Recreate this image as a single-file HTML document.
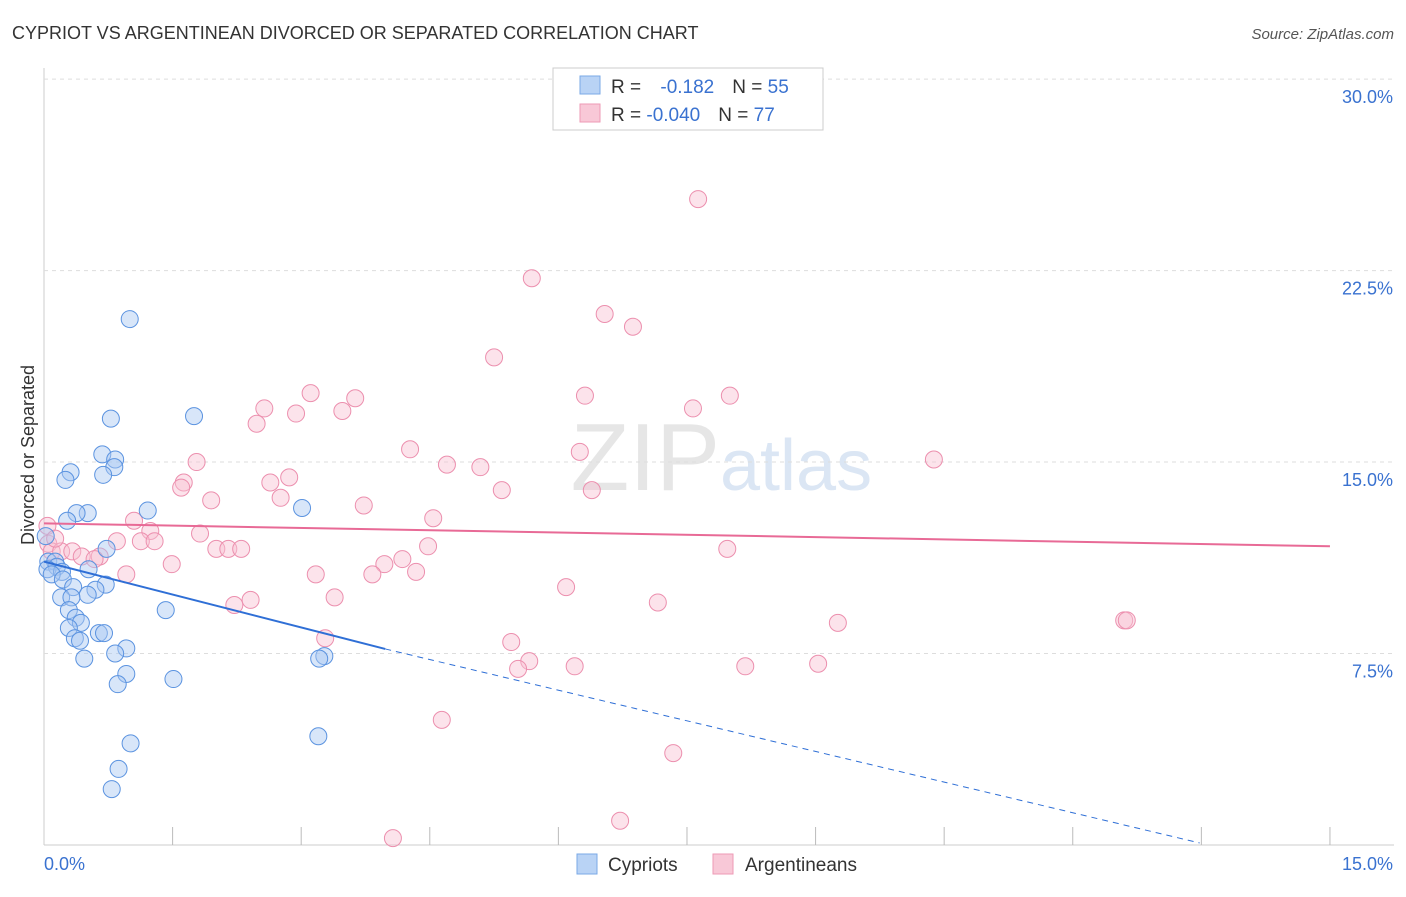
<!DOCTYPE html>
<html><head><meta charset="utf-8"><style>
body{margin:0;background:#fff;font-family:"Liberation Sans",sans-serif}
svg text{font-family:"Liberation Sans",sans-serif}
</style></head><body>
<svg id="c" width="1406" height="892">
<text x="12" y="39" font-size="18" fill="#333">CYPRIOT VS ARGENTINEAN DIVORCED OR SEPARATED CORRELATION CHART</text>
<text x="1394" y="39" font-size="15" fill="#555" font-style="italic" text-anchor="end">Source: ZipAtlas.com</text>
<text x="720" y="490" font-size="96" fill="#e6e6e6" text-anchor="end" font-family="Liberation Serif">ZIP</text>
<text x="720" y="490" font-size="72" fill="#dbe6f4">atlas</text>
<g id="grid"></g><g id="marks"></g>
<text transform="translate(34,455) rotate(-90)" font-size="18" fill="#333" text-anchor="middle">Divorced or Separated</text>
<g>
<rect x="553" y="68" width="270" height="62" fill="#fff" stroke="#ccc"/>
<rect x="580" y="76" width="20" height="18" fill="#b9d3f5" stroke="#7aa8e6"/>
<rect x="580" y="104" width="20" height="18" fill="#f8c8d7" stroke="#ee9ab5"/>
<text x="611" y="93" font-size="19" fill="#333">R = <tspan fill="#3a72d0" dx="14">-0.182</tspan><tspan dx="18" fill="#333">N = </tspan><tspan fill="#3a72d0">55</tspan></text>
<text x="611" y="121" font-size="19" fill="#333">R = <tspan fill="#3a72d0">-0.040</tspan><tspan dx="18" fill="#333">N = </tspan><tspan fill="#3a72d0">77</tspan></text>
</g>
<g>
<rect x="577" y="854" width="20" height="20" fill="#b9d3f5" stroke="#7aa8e6"/>
<text x="608" y="871" font-size="19" fill="#333">Cypriots</text>
<rect x="713" y="854" width="20" height="20" fill="#f8c8d7" stroke="#ee9ab5"/>
<text x="745" y="871" font-size="19" fill="#333">Argentineans</text>
</g>
</svg>
<script>
const yTicks=[7.5,15,22.5,30];
const xTickVals=[0,1.5,3,4.5,6,7.5,9,10.5,12,13.5,15];
const cypX=[1.0,0.78,1.75,0.68,0.83,0.82,0.31,0.69,0.25,0.51,0.38,1.21,3.01,0.27,0.02,0.73,0.05,0.13,0.15,0.04,0.21,0.09,0.52,0.22,0.72,0.34,0.6,0.2,0.51,0.32,1.42,0.29,0.37,0.43,0.29,0.64,0.7,0.36,0.42,0.96,0.83,0.47,3.27,3.21,0.96,1.51,0.86,1.01,3.2,0.87,0.79];
const cypY=[20.6,16.7,16.8,15.3,15.1,14.8,14.6,14.5,14.3,13.0,13.0,13.1,13.2,12.7,12.1,11.6,11.1,11.1,10.9,10.8,10.7,10.6,10.8,10.4,10.2,10.1,10.0,9.7,9.8,9.7,9.2,9.2,8.9,8.7,8.5,8.3,8.3,8.1,8.0,7.7,7.5,7.3,7.4,7.3,6.7,6.5,6.3,3.98,4.26,2.98,2.19];
const argX=[7.63,5.69,6.54,6.87,5.25,3.11,3.63,6.31,8.0,2.57,7.57,2.94,3.48,2.48,4.27,6.25,1.78,4.70,5.09,10.38,2.86,1.63,1.60,2.64,5.34,6.39,1.95,2.76,3.73,4.54,1.05,1.24,1.82,0.85,1.13,1.29,0.05,0.09,0.20,0.33,0.44,4.48,2.01,2.15,2.30,7.97,0.65,0.59,4.18,3.97,1.49,4.34,3.17,3.83,0.96,6.09,2.41,3.39,2.22,7.16,9.26,12.6,12.63,3.28,5.45,5.66,5.53,6.19,8.18,9.03,4.64,7.34,6.72,4.07,0.04,0.13];
const argY=[25.3,22.2,20.8,20.3,19.1,17.7,17.5,17.6,17.6,17.1,17.1,16.9,17.0,16.5,15.5,15.4,15.0,14.9,14.8,15.1,14.4,14.2,14.0,14.2,13.9,13.9,13.5,13.6,13.3,12.8,12.7,12.3,12.2,11.9,11.9,11.9,11.8,11.5,11.5,11.5,11.3,11.7,11.6,11.6,11.6,11.6,11.3,11.2,11.2,11.0,11.0,10.7,10.6,10.6,10.6,10.1,9.6,9.7,9.4,9.5,8.7,8.8,8.8,8.1,7.95,7.2,6.9,7.0,7.0,7.1,4.9,3.6,0.95,0.27,12.5,12.0];
const sx=v=>44+v*85.73, sy=v=>845-v*25.53;
const NS='http://www.w3.org/2000/svg';
const g=document.getElementById('grid'), m=document.getElementById('marks');
function mk(p,tag,a){const e=document.createElementNS(NS,tag);for(const k in a)e.setAttribute(k,a[k]);p.appendChild(e);return e;}
let ax=mk(g,'line',{x1:44,y1:68,x2:44,y2:845,stroke:'#ccc'});


let bx=mk(g,'line',{x1:44,y1:845,x2:1394,y2:845,stroke:'#ccc'});


yTicks.forEach(t=>{const l=mk(g,'line',{x1:44,y1:sy(t),x2:1394,y2:sy(t),stroke:'#ddd','stroke-dasharray':'4 4'});


const tx=mk(g,'text',{x:1393,y:sy(t)+24,'font-size':18,fill:'#3a72d0','text-anchor':'end'});tx.textContent=t.toFixed(1)+'%';

});
xTickVals.forEach((t,i)=>{if(i==0)return;const l=mk(g,'line',{x1:sx(t),y1:827,x2:sx(t),y2:845,stroke:'#bbb'});

});
[['0.0%',44,'start'],['15.0%',1393,'end']].forEach(a=>{const t=mk(g,'text',{x:a[1],y:870,'font-size':18,fill:'#3a72d0','text-anchor':a[2]});t.textContent=a[0];

});
function pts(X,Y,f,s,n){X.forEach((x,i)=>{const c=mk(m,'circle',{cx:sx(x),cy:sy(Y[i]),r:8.5,fill:f,'fill-opacity':0.45,stroke:s,'stroke-width':1});

});}
pts(argX,argY,'#f8c0d2','#ec8fae','argentinean-point');
pts(cypX,cypY,'#a9c8f2','#5b93e0','cypriot-point');
let l1=mk(m,'line',{x1:sx(0),y1:sy(11.1),x2:sx(3.98),y2:sy(7.68),stroke:'#2f6fd6','stroke-width':2});


let l2=mk(m,'line',{x1:sx(3.98),y1:sy(7.68),x2:sx(13.48),y2:sy(0.08),stroke:'#2f6fd6','stroke-width':1,'stroke-dasharray':'6 5'});


let l3=mk(m,'line',{x1:sx(0),y1:sy(12.6),x2:sx(15),y2:sy(11.7),stroke:'#e86a96','stroke-width':2});


</script>
</body></html>
